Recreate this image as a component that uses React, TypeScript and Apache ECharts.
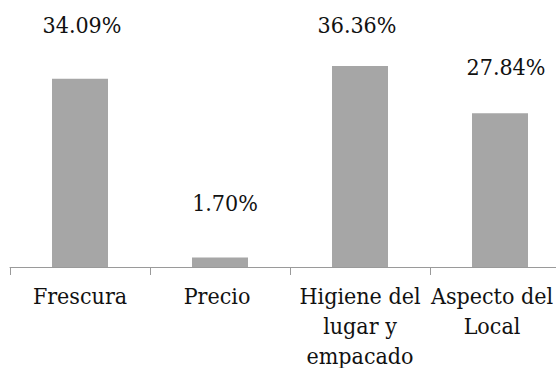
import React, { useEffect, useRef } from "react";
import * as echarts from "echarts";

// Aspects rated by customers and the share of answers each one received (%)
const categories = [
  "Frescura",
  "Precio",
  "Higiene del lugar y empacado",
  "Aspecto del Local",
];
const percentages = [34.09, 1.7, 36.36, 27.84];

// Line breaks used for the long axis names
const wrappedNames: Record<string, string> = {
  "Higiene del lugar y empacado": "Higiene del\nlugar y\nempacado",
  "Aspecto del Local": "Aspecto del\nLocal",
};

// Right padding on axis names that sit close to the right edge
const namePaddingRight: Record<string, number> = {
  "Precio": 6,
  "Aspecto del Local": 16,
};

// Per-bar nudges for the value labels [dx, dy]
const labelNudges: [number, number][] = [
  [2, -39],
  [5, -40],
  [-3, -26],
  [6, -31],
];

const FONT = "DejaVu Serif Condensed";

export default function App() {
  const ref = useRef<HTMLDivElement>(null);

  useEffect(() => {
    if (!ref.current) return;
    const chart = echarts.init(ref.current, undefined, { renderer: "svg" });
    chart.setOption({
      animation: false,
      backgroundColor: "#ffffff",
      textStyle: { fontFamily: FONT },
      grid: {
        left: 10,
        top: 46,
        width: 560,
        bottom: 101,
        containLabel: false,
        outerBoundsMode: "none",
      },
      xAxis: {
        type: "category",
        data: categories.map((c) => ({
          value: c,
          textStyle: { padding: [0, namePaddingRight[c] ?? 0, 0, 0] },
        })),
        boundaryGap: true,
        axisLine: { show: true, lineStyle: { color: "#9a9a9a", width: 1 } },
        axisTick: { show: true, length: 8, lineStyle: { color: "#9a9a9a" } },
        axisLabel: {
          interval: 0,
          margin: 14,
          fontFamily: FONT,
          fontSize: 23,
          lineHeight: 30,
          color: "#111111",
          formatter: (v: string) => wrappedNames[v] ?? v,
        },
      },
      yAxis: {
        type: "value",
        min: 0,
        max: 40,
        show: false,
        splitLine: { show: false },
      },
      series: [
        {
          type: "bar",
          barWidth: "40%",
          itemStyle: { color: "#a6a6a6" },
          data: percentages.map((v, i) => ({
            value: v,
            label: {
              show: true,
              position: "top",
              distance: 0,
              offset: labelNudges[i],
              fontFamily: FONT,
              fontSize: 23,
              lineHeight: 30,
              color: "#111111",
              formatter: () => `${v.toFixed(2)}%`,
            },
          })),
        },
      ],
    });
    return () => chart.dispose();
  }, []);

  return (
    <div
      ref={ref}
      style={{ position: "fixed", left: 0, top: 0, width: 556, height: 368 }}
    />
  );
}
